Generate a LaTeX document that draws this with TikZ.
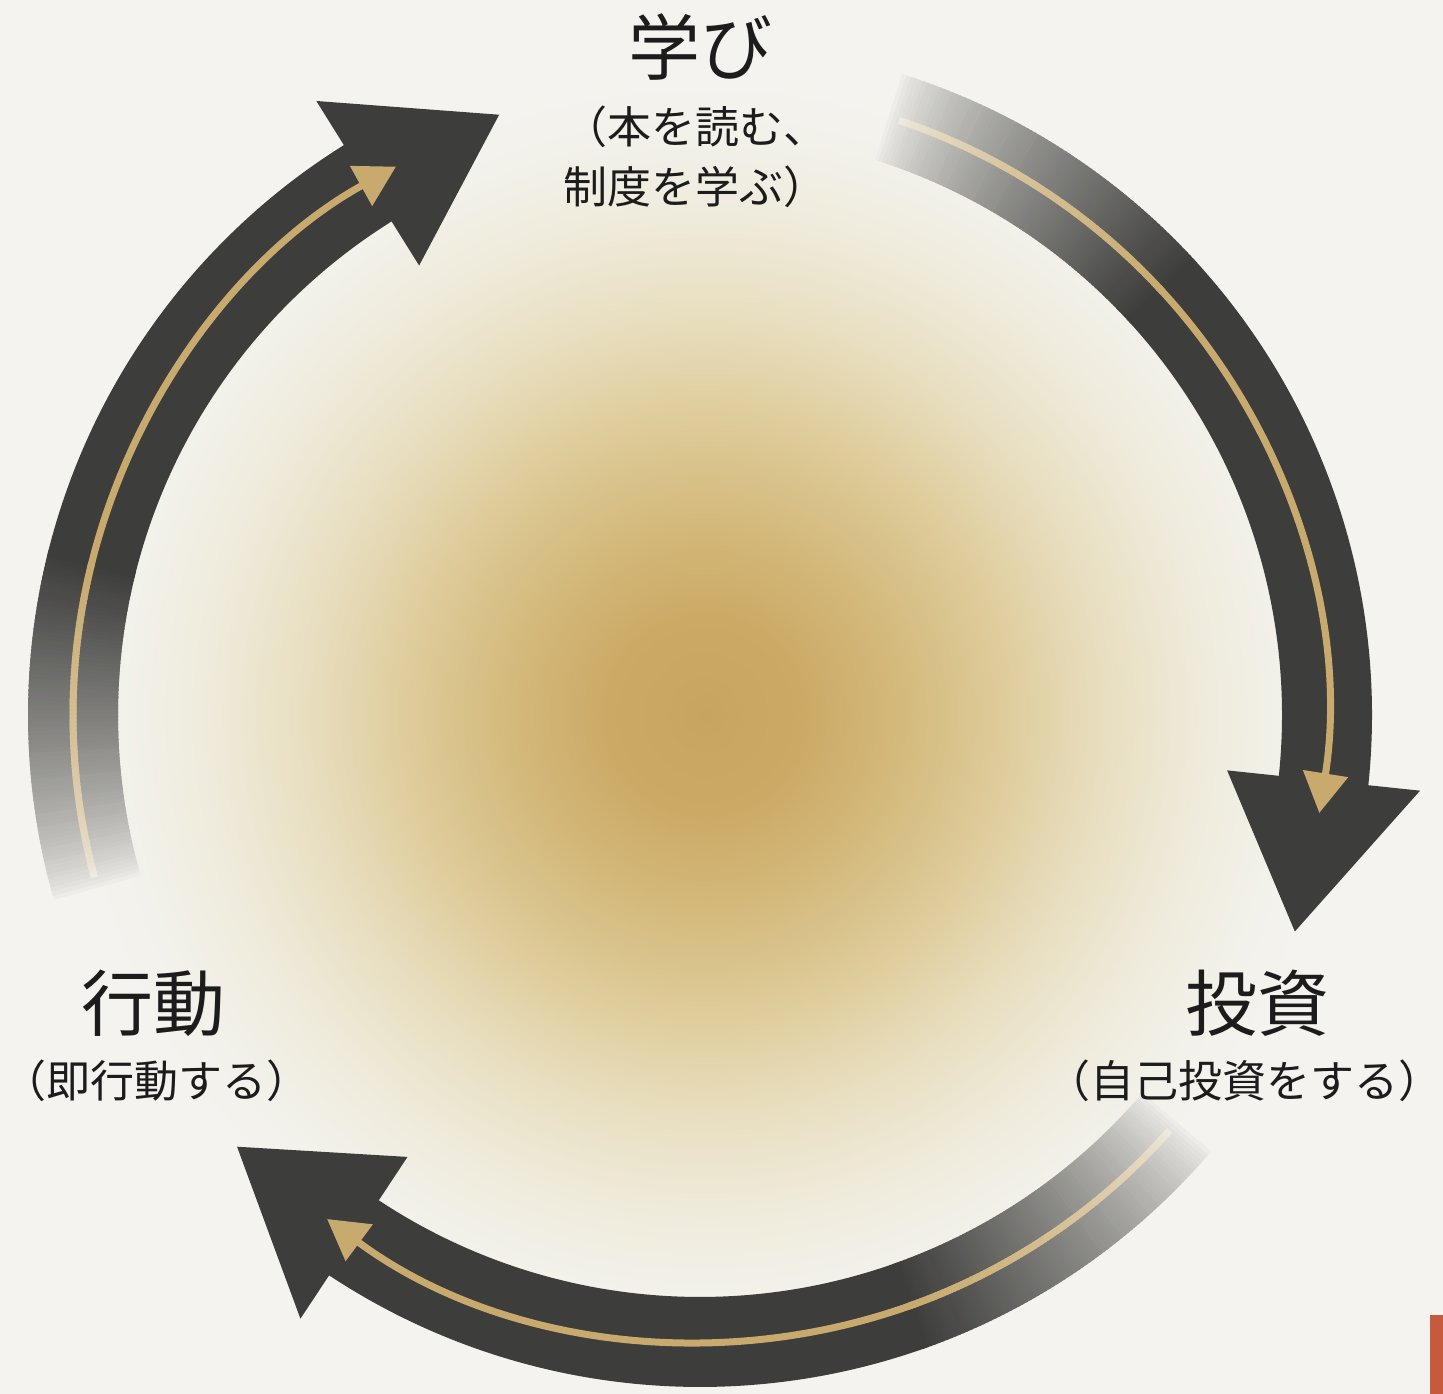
\documentclass[tikz,border=0pt]{standalone}
\usepackage{fontspec}
\newfontfamily\jp{Noto Sans CJK JP}
\usetikzlibrary{arrows.meta}
\definecolor{bgc}{RGB}{244,243,239}
\definecolor{darkc}{RGB}{61,61,59}
\definecolor{goldc}{RGB}{200,170,110}
\definecolor{txtc}{RGB}{28,28,28}
\definecolor{redc}{RGB}{198,90,60}
\definecolor{gzero}{RGB}{200,165,95}
\definecolor{gone}{RGB}{204,170,102}
\definecolor{gtwo}{RGB}{212,186,125}
\definecolor{gthree}{RGB}{222,204,155}
\definecolor{gfour}{RGB}{232,222,192}
\definecolor{gfive}{RGB}{239,235,220}
\definecolor{gsix}{RGB}{242,241,234}
\pgfdeclareradialshading{glow}{\pgfpoint{0bp}{0bp}}{color(0bp)=(gzero); color(3.9bp)=(gone); color(7.8bp)=(gtwo); color(11.7bp)=(gthree); color(15.6bp)=(gfour); color(19.5bp)=(gfive); color(22.7bp)=(gsix); color(25bp)=(bgc); color(50bp)=(bgc)}
\begin{document}
\begin{tikzpicture}[x=1pt,y=1pt,
  titletext/.style={font=\jp\fontsize{72}{80}\selectfont, text=txtc, inner sep=0pt, anchor=base},
  subtext/.style={font=\jp\fontsize{44}{54}\selectfont, text=txtc, inner sep=0pt, anchor=base},
  band/.style={line width=90pt},
  goldline/.style={line width=7pt}]
\useasboundingbox (0,0) rectangle (1443,1394);
\fill[bgc] (0,0) rectangle (1443,1394);
\shade[shading=glow] (705,679) circle (640);
\coordinate (C) at (700,679);
\fill[redc] (1430,0) rectangle (1443,79);

\foreach \s/\b/\t in {72.5/-6/-20, -40.5/-123.5/-137, -164/-238/-251.5} {
  \begin{scope}[shift={(C)}]
    % fading start of the band
    \foreach \i in {0,...,79} {
      \pgfmathsetmacro\aA{\s-\i*0.375}
      \pgfmathsetmacro\aB{\aA-0.6}
      \pgfmathtruncatemacro\pp{100*((\i+1)/80)^0.7}
      \draw[band, darkc!\pp!bgc] (\aA:627) arc[start angle=\aA, end angle=\aB, radius=627];
    }
    \pgfmathsetmacro\sA{\s-29.8}
    \pgfmathsetmacro\bA{\b-1}
    \draw[band, darkc] (\sA:627) arc[start angle=\sA, end angle=\bA, radius=627];
    \fill[darkc] (\b:530) -- (\b:724) -- (\t:633) -- cycle;
    % gold inner line
    \foreach \i in {0,...,79} {
      \pgfmathsetmacro\aA{\s-1-\i*0.36}
      \pgfmathsetmacro\aB{\aA-0.6}
      \pgfmathtruncatemacro\pp{100*((\i+1)/80)^0.5}
      \draw[goldline, goldc!\pp!bgc] (\aA:627) arc[start angle=\aA, end angle=\aB, radius=627];
    }
    \pgfmathsetmacro\gA{\s-29.5}
    \pgfmathsetmacro\gB{\b-3}
    \draw[goldline, goldc, -{Triangle[width=44pt,length=40pt]}] (\gA:627) arc[start angle=\gA, end angle=\gB, radius=627];
  \end{scope}
}

\node[titletext] (t1) at (700,1319) {学び};
\node[subtext, anchor=base west] (s1a) at (563,1250) {（本を読む、};
\node[subtext, anchor=base west] (s1b) at (563,1190) {制度を学ぶ）};
\node[titletext] (t2) at (1257,363) {投資};
\node[subtext] (s2) at (1244,296) {（自己投資をする）};
\node[titletext] (t3) at (153,363) {行動};
\node[subtext] (s3) at (156,296) {（即行動する）};
\end{tikzpicture}
\end{document}
